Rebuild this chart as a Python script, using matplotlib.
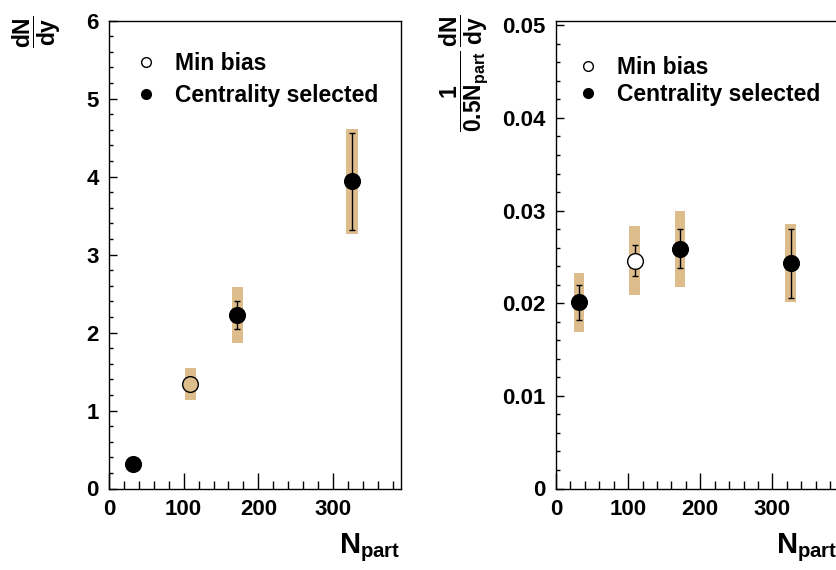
import numpy as np
import matplotlib
matplotlib.use("Agg")
import matplotlib.pyplot as plt
from matplotlib.lines import Line2D
from matplotlib.ticker import MultipleLocator, FuncFormatter

plt.rcParams['font.family'] = ['Liberation Sans', 'DejaVu Sans']
plt.rcParams['font.weight'] = 'bold'
plt.rcParams['mathtext.fontset'] = 'custom'
plt.rcParams['mathtext.rm'] = 'Liberation Sans:bold'
plt.rcParams['mathtext.it'] = 'Liberation Sans:bold'
plt.rcParams['mathtext.bf'] = 'Liberation Sans:bold'

# --- data ---
npart = [32, 109, 172, 325.5]
is_minbias = [False, True, False, False]

# left panel: dN/dy
dndy = [0.31, 1.34, 2.22, 3.94]
dndy_stat = [0.02, 0.05, 0.18, 0.62]
dndy_sys = [0.05, 0.20, 0.36, 0.67]

# right panel: 1/(0.5 Npart) dN/dy
norm = [0.0201, 0.0246, 0.0259, 0.0243]
norm_stat = [0.0019, 0.0017, 0.0021, 0.0037]
norm_sys = [0.0032, 0.0037, 0.0041, 0.0042]

BAND = '#DEBD8C'
BAND_W = 15  # in Npart units
TICK_FS = 16


def draw_panel(ax, y, stat, sys, ylim, major, minor, open_fill, leg_anchor, leg_space):
    for x, v, s, e, mb in zip(npart, y, sys, stat, is_minbias):
        # systematic band
        ax.bar(x, 2 * s, bottom=v - s, width=BAND_W, color=BAND, edgecolor='none', zorder=1)
        # statistical error
        ax.errorbar(x, v, yerr=e, fmt='none', ecolor='black', elinewidth=1,
                    capsize=2.5, capthick=1, zorder=2)
        if mb:
            ax.plot(x, v, 'o', ms=11.3, mfc=open_fill, mec='black', mew=1, zorder=3)
        else:
            ax.plot(x, v, 'o', ms=11.3, mfc='black', mec='black', zorder=3)

    ax.set_xlim(0, 391)
    ax.set_ylim(*ylim)
    ax.xaxis.set_major_locator(MultipleLocator(100))
    ax.xaxis.set_minor_locator(MultipleLocator(20))
    ax.yaxis.set_major_locator(MultipleLocator(major))
    ax.yaxis.set_minor_locator(MultipleLocator(minor))
    ax.yaxis.set_major_formatter(FuncFormatter(lambda v, p: f"{v:g}"))
    ax.tick_params(axis='x', which='major', direction='in', length=11.5, width=1, pad=7.5,
                   labelsize=TICK_FS)
    ax.tick_params(axis='x', which='minor', direction='in', length=5.5, width=1)
    ax.tick_params(axis='y', which='major', direction='in', length=5.8, width=1, pad=7.5,
                   labelsize=TICK_FS)
    ax.tick_params(axis='y', which='minor', direction='in', length=2.9, width=1)
    for sp in ax.spines.values():
        sp.set_linewidth(1.0)
    for lab in ax.get_xticklabels() + ax.get_yticklabels():
        lab.set_fontweight('bold')

    handles = [
        Line2D([], [], marker='o', ls='none', ms=7, mfc='white', mec='black', mew=1),
        Line2D([], [], marker='o', ls='none', ms=7, mfc='black', mec='black'),
    ]
    ax.legend(handles, ['Min bias', 'Centrality selected'], loc='upper left',
              bbox_to_anchor=leg_anchor, frameon=False,
              handlelength=1.0, handletextpad=0.77, labelspacing=leg_space,
              borderpad=0, borderaxespad=0, prop={'weight': 'bold', 'size': 16.5})


fig = plt.figure(figsize=(8.36, 5.70), dpi=100)
W, H = 836, 570
AX_TOP, AX_BOT = 20.7, 488.5
ax1 = fig.add_axes([109 / W, 1 - AX_BOT / H, 292 / W, (AX_BOT - AX_TOP) / H])
ax2 = fig.add_axes([556 / W, 1 - AX_BOT / H, 282 / W, (AX_BOT - AX_TOP) / H])

draw_panel(ax1, dndy, dndy_stat, dndy_sys, (0, 6), 1, 0.2, BAND, (0.087, 0.933), 0.41)
draw_panel(ax2, norm, norm_stat, norm_sys, (0, 0.0505), 0.01, 0.002, 'white',
           (0.073, 0.925), 0.2)

# axis titles
fig.text(37 / W, 1 - 31.5 / H, r'$\dfrac{dN}{dy}$', rotation=90, fontsize=16.5,
         ha='center', va='center')
fig.text(464 / W, 1 - 73 / H, r'$\dfrac{1}{0.5N_{part}}\,\dfrac{dN}{dy}$', rotation=90,
         fontsize=16.5, ha='center', va='center')
fig.text(400 / W, 1 - 553 / H, r'$N_{part}$', fontsize=21, ha='right', va='baseline')
fig.text(837 / W, 1 - 553 / H, r'$N_{part}$', fontsize=21, ha='right', va='baseline')

fig.savefig('out.png', dpi=100)
